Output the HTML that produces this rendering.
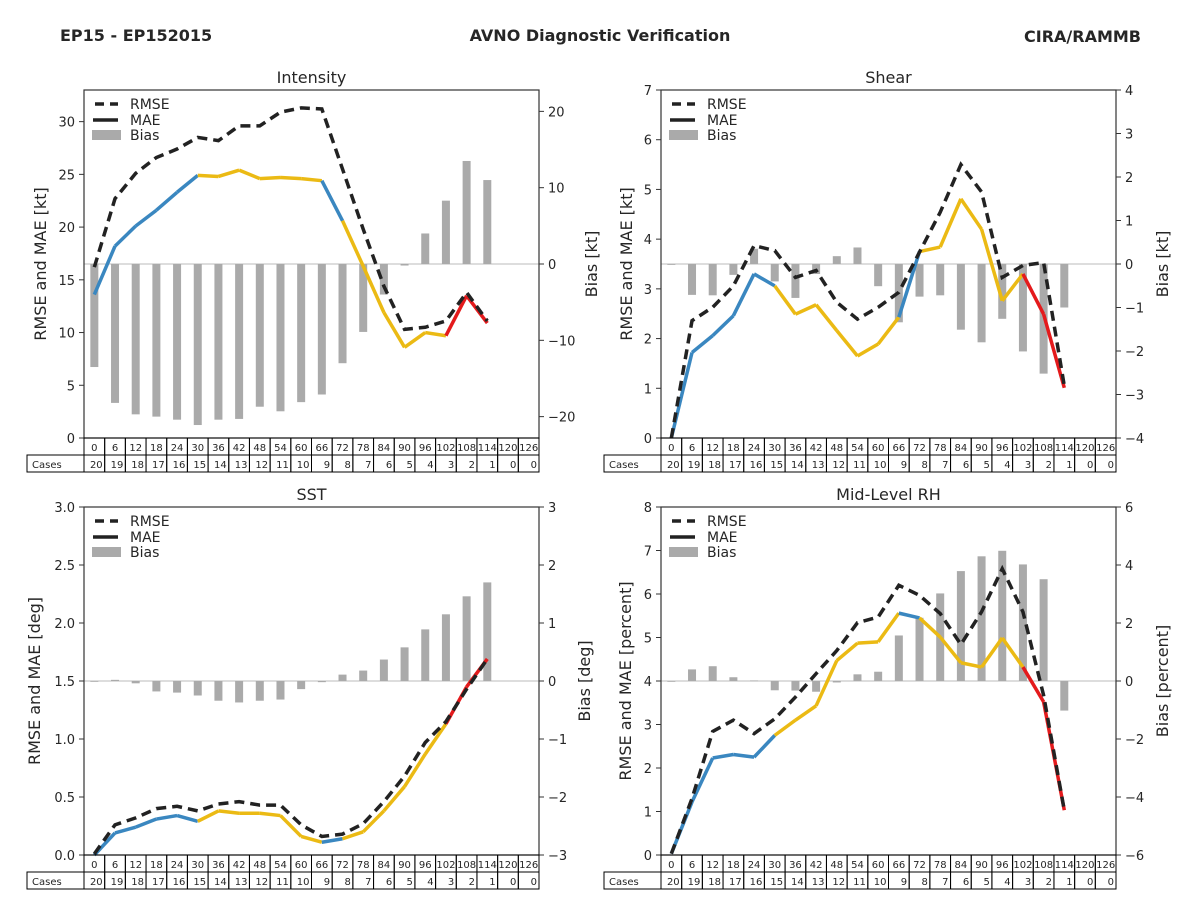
<!DOCTYPE html>
<html><head><meta charset="utf-8"><style>
body{margin:0;background:#fff;}
svg text{font-family:"DejaVu Sans","Liberation Sans",sans-serif;fill:#262626;}
</style></head><body>
<svg id="s" width="1200" height="900" xmlns="http://www.w3.org/2000/svg">
<text x="60" y="41" font-size="16" font-weight="bold">EP15 - EP152015</text>
<text x="600" y="41" font-size="16" font-weight="bold" text-anchor="middle">AVNO Diagnostic Verification</text>
<text x="1141" y="42" font-size="16" font-weight="bold" text-anchor="end">CIRA/RAMMB</text>
</svg>
<script>
const hours=[0,6,12,18,24,30,36,42,48,54,60,66,72,78,84,90,96,102,108,114,120,126];
const cases=[20,19,18,17,16,15,14,13,12,11,10,9,8,7,6,5,4,3,2,1,0,0];
const intRmse=[16.2,22.7,25.1,26.6,27.4,28.5,28.2,29.6,29.6,30.9,31.3,31.2,25.5,19.8,14.4,10.3,10.5,11.1,13.8,11.1];
const intMae=[13.6,18.2,20.1,21.6,23.3,24.9,24.8,25.4,24.6,24.7,24.6,24.4,20.6,16.3,11.9,8.6,10.0,9.7,13.5,10.9];
const intBias=[-13.5,-18.2,-19.7,-20.0,-20.4,-21.1,-20.4,-20.3,-18.7,-19.3,-18.1,-17.1,-13.0,-8.9,-4.0,-0.2,4.0,8.3,13.5,11.0];
const intCol=['b','b','b','b','b','y','y','y','y','y','y','b','y','y','y','y','y','r','r'];
const shRmse=[0,2.36,2.63,3.06,3.87,3.77,3.23,3.37,2.73,2.39,2.63,2.93,3.74,4.54,5.5,4.95,3.23,3.47,3.53,1.05];
const shMae=[0,1.72,2.06,2.46,3.3,3.06,2.49,2.68,2.16,1.65,1.89,2.43,3.75,3.84,4.81,4.2,2.76,3.3,2.49,1.01];
const shBias=[-0.02,-0.71,-0.72,-0.25,0.35,-0.4,-0.78,-0.23,0.18,0.38,-0.51,-1.34,-0.75,-0.72,-1.51,-1.8,-1.26,-2.01,-2.52,-1.0];
const shCol=['b','b','b','b','b','y','y','y','y','y','y','b','y','y','y','y','y','r','r'];
const sstRmse=[0.01,0.26,0.32,0.4,0.42,0.38,0.44,0.46,0.43,0.43,0.26,0.16,0.18,0.27,0.46,0.68,0.97,1.15,1.43,1.69];
const sstMae=[0,0.19,0.24,0.31,0.34,0.29,0.38,0.36,0.36,0.34,0.16,0.11,0.14,0.2,0.38,0.59,0.87,1.13,1.45,1.69];
const sstBias=[0,0.02,-0.04,-0.18,-0.2,-0.25,-0.34,-0.37,-0.34,-0.32,-0.14,-0.02,0.11,0.18,0.37,0.58,0.89,1.15,1.46,1.7];
const sstCol=['b','b','b','b','b','y','y','y','y','y','y','b','y','y','y','y','y','r','r'];
const rhRmse=[0.03,1.3,2.84,3.1,2.79,3.13,3.63,4.17,4.7,5.34,5.47,6.2,5.97,5.55,4.84,5.59,6.58,5.59,3.67,1.03];
const rhMae=[0.03,1.22,2.23,2.31,2.25,2.75,3.1,3.43,4.47,4.87,4.9,5.56,5.45,5.01,4.42,4.32,4.99,4.32,3.52,1.03];
const rhBias=[0,0.4,0.51,0.13,0.02,-0.32,-0.33,-0.37,-0.05,0.23,0.32,1.57,2.18,3.02,3.79,4.3,4.49,4.02,3.51,-1.02];
const rhCol=['b','b','b','b','b','y','y','y','y','y','y','b','y','y','y','y','y','r','r'];
const COL={b:'#3a87c0',y:'#ebba14',r:'#e41a1c'};
const S=document.getElementById('s');const NS='http://www.w3.org/2000/svg';
function el(t,a,txt){const e=document.createElementNS(NS,t);for(const k in a)e.setAttribute(k,a[k]);if(txt!==undefined)e.textContent=txt;S.appendChild(e);return e;}
function panel(o){
 const x0=o.x,x1=o.x+455,y0=o.y,y1=o.y+348,cw=455/22;
 const xs=i=>x0+cw*(i+0.5);
 const yl=v=>y1-(v-o.lmin)/(o.lmax-o.lmin)*348;
 const yr=v=>y1-(v-o.rmin)/(o.rmax-o.rmin)*348;
 let e;
 e=el('text',{x:(x0+x1)/2,y:y0-7,'font-size':16,'text-anchor':'middle'},o.title);
 
 e=el('line',{x1:x0,x2:x1,y1:yr(0),y2:yr(0),stroke:'#bbb','stroke-width':1});
 
 o.bias.forEach((v,i)=>{const a=yr(0),b=yr(v);
  e=el('rect',{x:xs(i)-4,y:Math.min(a,b),width:8,height:Math.max(0.8,Math.abs(a-b)),fill:'#aaaaaa'});
  });
 for(let i=0;i<o.mae.length-1;i++){
  e=el('line',{x1:xs(i),y1:yl(o.mae[i]),x2:xs(i+1),y2:yl(o.mae[i+1]),stroke:COL[o.col[i]],'stroke-width':3.5,'stroke-linecap':'butt'});
  }
 e=el('polyline',{points:o.rmse.map((v,i)=>xs(i)+','+yl(v)).join(' '),fill:'none',stroke:'#222','stroke-width':3.5,'stroke-dasharray':'10,6'});
 
 e=el('rect',{x:x0,y:y0,width:455,height:348,fill:'none',stroke:'#333','stroke-width':1.2});
 
 o.lt.forEach(v=>{const y=yl(v);
  e=el('line',{x1:x0-5,x2:x0,y1:y,y2:y,stroke:'#333'});
  e=el('text',{x:x0-9,y:y+5,'font-size':13,'text-anchor':'end'},o.lf(v));});
 o.rt.forEach(v=>{const y=yr(v);
  e=el('line',{x1:x1,x2:x1+5,y1:y,y2:y,stroke:'#333'});
  e=el('text',{x:x1+9,y:y+5,'font-size':13},(v<0?'\u2212':'')+Math.abs(v));});
 e=el('text',{x:0,y:0,'font-size':16,'text-anchor':'middle',transform:`translate(${x0-o.lo},${(y0+y1)/2}) rotate(-90)`},o.ll);
 
 e=el('text',{x:0,y:0,'font-size':16,'text-anchor':'middle',transform:`translate(${x1+o.ro},${(y0+y1)/2}) rotate(-90)`},o.rl);
 
 // legend
 e=el('line',{x1:x0+11,x2:x0+34,y1:y0+14,y2:y0+14,stroke:'#222','stroke-width':3.5,'stroke-dasharray':'9,6'});
 
 e=el('text',{x:x0+46,y:y0+19,'font-size':14},'RMSE');
 e=el('line',{x1:x0+9,x2:x0+34,y1:y0+30,y2:y0+30,stroke:'#222','stroke-width':3.5});
 
 e=el('text',{x:x0+46,y:y0+35,'font-size':14},'MAE');
 e=el('rect',{x:x0+8,y:y0+40,width:29,height:10,fill:'#aaaaaa'});
 
 e=el('text',{x:x0+46,y:y0+50,'font-size':14},'Bias');
 // table
 e=el('rect',{x:x0-57,y:y1+17,width:57,height:17,fill:'none',stroke:'#000'});
 
 e=el('text',{x:x0-52,y:y1+30,'font-size':10},'Cases');
 hours.forEach((h,i)=>{const cx=x0+cw*i;
  e=el('rect',{x:cx,y:y1,width:cw,height:17,fill:'none',stroke:'#000'});
  e=el('rect',{x:cx,y:y1+17,width:cw,height:17,fill:'none',stroke:'#000'});
  e=el('text',{x:cx+cw/2,y:y1+13,'font-size':10,'text-anchor':'middle'},h);
  e=el('text',{x:cx+cw-2,y:y1+30,'font-size':10,'text-anchor':'end'},cases[i]);});
}
const rng=(a,b,s)=>{const r=[];for(let v=a;v<=b+1e-9;v+=s)r.push(Math.round(v*100)/100);return r;};
panel({key:'intensity',title:'Intensity',x:84,y:90,lmin:0,lmax:33,rmin:-22.8,rmax:22.8,rmse:intRmse,mae:intMae,bias:intBias,col:intCol,lt:rng(0,30,5),rt:[-20,-10,0,10,20],lf:v=>v,ll:'RMSE and MAE [kt]',rl:'Bias [kt]',lo:38,ro:58});
panel({key:'shear',title:'Shear',x:661,y:90,lmin:0,lmax:7,rmin:-4,rmax:4,rmse:shRmse,mae:shMae,bias:shBias,col:shCol,lt:rng(0,7,1),rt:rng(-4,4,1),lf:v=>v,ll:'RMSE and MAE [kt]',rl:'Bias [kt]',lo:29,ro:52});
panel({key:'sst',title:'SST',x:84,y:507,lmin:0,lmax:3,rmin:-3,rmax:3,rmse:sstRmse,mae:sstMae,bias:sstBias,col:sstCol,lt:rng(0,3,0.5),rt:rng(-3,3,1),lf:v=>v.toFixed(1),ll:'RMSE and MAE [deg]',rl:'Bias [deg]',lo:44,ro:51});
panel({key:'midlevel-rh',title:'Mid-Level RH',x:661,y:507,lmin:0,lmax:8,rmin:-6,rmax:6,rmse:rhRmse,mae:rhMae,bias:rhBias,col:rhCol,lt:rng(0,8,1),rt:rng(-6,6,2),lf:v=>v,ll:'RMSE and MAE [percent]',rl:'Bias [percent]',lo:30,ro:52});
</script>
</body></html>
